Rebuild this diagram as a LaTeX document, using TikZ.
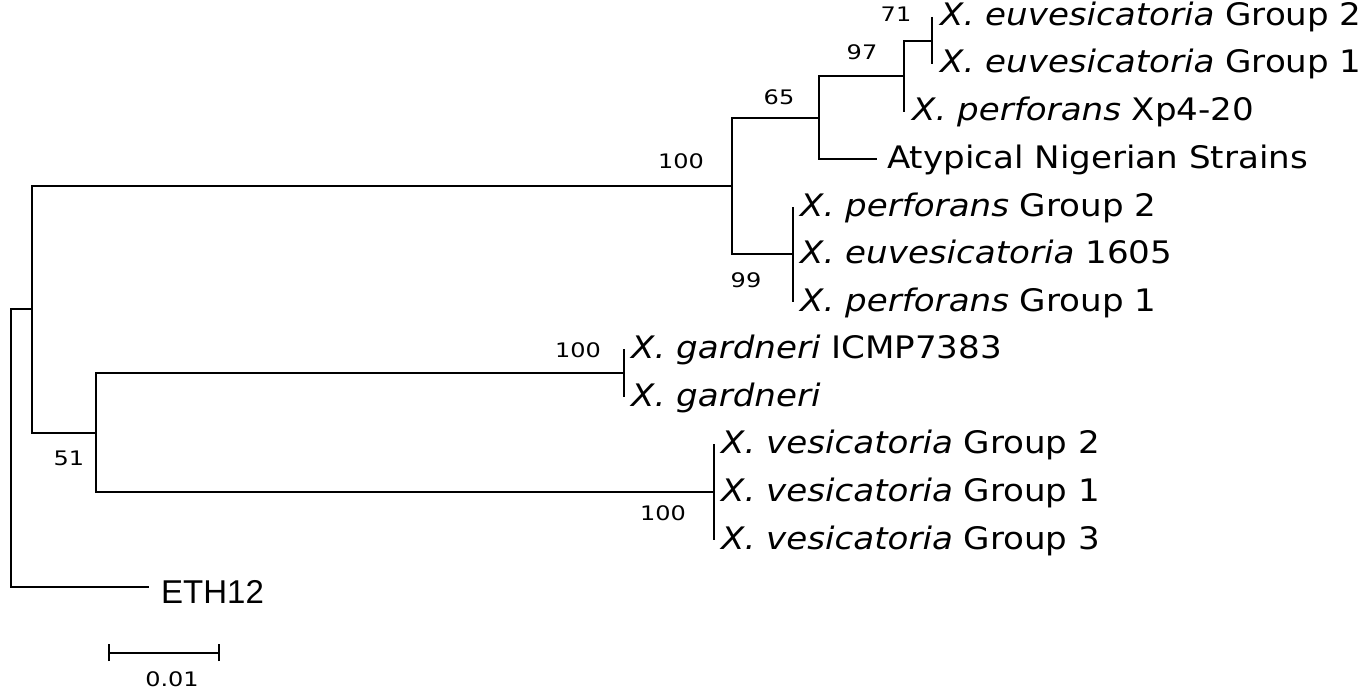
\documentclass[tikz,border=0pt]{standalone}
\usepackage{fontspec}
\setmainfont[FakeStretch=1.1]{DejaVu Sans}
\newfontfamily\bootfont[FakeStretch=1.2]{DejaVu Sans}
\newfontfamily\arialfont{Liberation Sans}
\begin{document}
\begin{tikzpicture}[x=1pt,y=-1pt,
  br/.style={line width=2pt, line join=miter},
  leaf/.style={anchor=base west, inner sep=0pt, font=\fontsize{31}{31}\selectfont},
  boot/.style={inner sep=0pt, font=\bootfont\fontsize{20}{20}\selectfont}]
\useasboundingbox (0,0) rectangle (1367,690);
% internal nodes
\coordinate (root) at (11,448);
\coordinate (A) at (32,309);
\coordinate (B) at (732,186);
\coordinate (C) at (96,433);
\coordinate (D) at (819,118);
\coordinate (E) at (793,254);
\coordinate (F) at (904,76);
\coordinate (G) at (932,41);
\coordinate (H) at (624,373);
\coordinate (I) at (714,492);
% leaves
\coordinate (l1) at (932,17);
\coordinate (l2) at (932,64);
\coordinate (l3) at (904,112);
\coordinate (l4) at (877,159);
\coordinate (l5) at (793,207);
\coordinate (l6) at (793,254);
\coordinate (l7) at (793,302);
\coordinate (l8) at (624,349);
\coordinate (l9) at (624,397);
\coordinate (l10) at (714,444);
\coordinate (l11) at (714,492);
\coordinate (l12) at (714,540);
\coordinate (l13) at (149,587);
% branches
\draw[br] (A) -| (root) |- (l13);
\draw[br] (B) -| (A) |- (C);
\draw[br] (H) -| (C) |- (I);
\draw[br] (D) -| (B) |- (E);
\draw[br] (F) -| (D) |- (l4);
\draw[br] (G) -| (F) |- (l3);
\draw[br] (l1) -- (l2);
\draw[br] (l5) -- (l7);
\draw[br] (l8) -- (l9);
\draw[br] (l10) -- (l12);
% leaf labels
\node[leaf] (t1) at (940,26) {\textit{X. euvesicatoria} Group 2};
\node[leaf] (t2) at (940,73) {\textit{X. euvesicatoria} Group 1};
\node[leaf] (t3) at (912,121) {\textit{X. perforans} Xp4-20};
\node[leaf] (t4) at (887,168) {Atypical Nigerian Strains};
\node[leaf] (t5) at (800,216) {\textit{X. perforans} Group 2};
\node[leaf] (t6) at (800,263) {\textit{X. euvesicatoria} 1605};
\node[leaf] (t7) at (800,311) {\textit{X. perforans} Group 1};
\node[leaf] (t8) at (631,358) {\textit{X. gardneri} ICMP7383};
\node[leaf] (t9) at (631,406) {\textit{X. gardneri}};
\node[leaf] (t10) at (721,453) {\textit{X. vesicatoria} Group 2};
\node[leaf] (t11) at (721,501) {\textit{X. vesicatoria} Group 1};
\node[leaf] (t12) at (721,549) {\textit{X. vesicatoria} Group 3};
\node[leaf, font=\arialfont\fontsize{33}{33}\selectfont] (t13) at (161,603) {ETH12};
% bootstrap values
\node[boot] (b71) at (896,14) {71};
\node[boot] (b97) at (862,52) {97};
\node[boot] (b65) at (779,97) {65};
\node[boot] (b100a) at (681,161) {100};
\node[boot] (b99) at (746,280) {99};
\node[boot] (b100g) at (578,350) {100};
\node[boot] (b100v) at (663,513) {100};
\node[boot] (b51) at (69,458) {51};
% scale bar
\coordinate (s1) at (109,653);
\coordinate (s2) at (219,653);
\draw[br] (s1) -- (s2);
\draw[br] ([yshift=-8]s1) -- ([yshift=9]s1);
\draw[br] ([yshift=-8]s2) -- ([yshift=9]s2);
\node[boot] (sl) at (172,679) {0.01};
\end{tikzpicture}
\end{document}
